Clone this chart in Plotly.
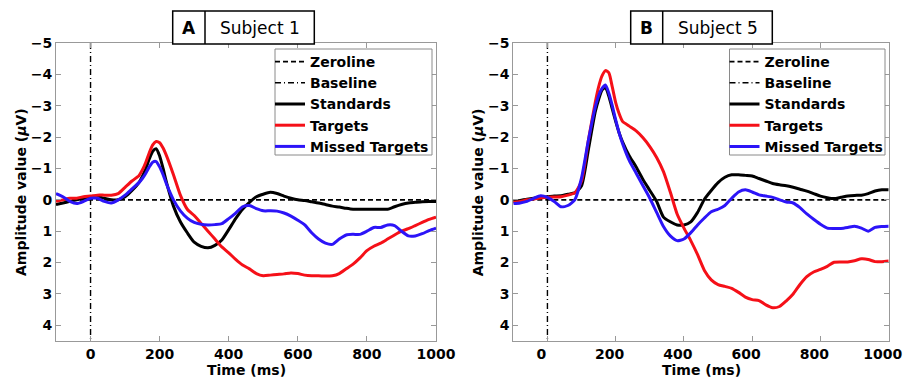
import plotly.graph_objects as go

# ---------------- data ----------------
time_ms = [-100, -80, -60, -40, -20, 0, 20, 40, 60, 80, 100, 120, 140, 150, 160, 170, 180, 190, 200, 210, 220,
           240, 260, 280, 300, 320, 340, 360, 380, 400, 420, 440, 460, 480, 500, 520, 540, 560, 580, 600,
           620, 640, 660, 680, 700, 720, 740, 760, 780, 800, 820, 840, 860, 880, 900, 920, 940, 960, 980, 1000]

s1_standards = [0.15, 0.1, 0.05, 0.0, -0.05, -0.1, -0.1, -0.05, 0.0, 0.0, -0.1, -0.3, -0.55, -0.75, -1.0, -1.3, -1.55, -1.63, -1.4, -1.0, -0.55,
                0.2, 0.7, 1.05, 1.35, 1.48, 1.53, 1.45, 1.28, 0.95, 0.6, 0.3, 0.08, -0.1, -0.18, -0.24, -0.2, -0.12, -0.05, 0.0,
                0.02, 0.06, 0.1, 0.15, 0.2, 0.23, 0.27, 0.3, 0.3, 0.3, 0.3, 0.3, 0.3, 0.22, 0.15, 0.1, 0.08, 0.06, 0.05, 0.05]
s1_targets = [0.05, 0.0, -0.05, -0.05, -0.1, -0.12, -0.15, -0.15, -0.15, -0.2, -0.4, -0.6, -0.77, -0.95, -1.2, -1.5, -1.75, -1.86, -1.82, -1.65, -1.4,
              -0.8, -0.15, 0.3, 0.5, 0.75, 1.0, 1.25, 1.5, 1.69, 1.9, 2.08, 2.2, 2.35, 2.42, 2.4, 2.38, 2.36, 2.33, 2.35,
              2.4, 2.42, 2.42, 2.43, 2.42, 2.35, 2.2, 2.05, 1.85, 1.62, 1.48, 1.38, 1.25, 1.12, 1.0, 0.92, 0.82, 0.72, 0.62, 0.55]
s1_missed = [-0.2, -0.1, 0.05, 0.12, 0.05, -0.05, -0.05, 0.05, 0.1, 0.0, -0.15, -0.35, -0.55, -0.68, -0.85, -1.05, -1.2, -1.22, -1.05, -0.8, -0.5,
             0.0, 0.35, 0.58, 0.72, 0.78, 0.8, 0.79, 0.76, 0.6, 0.42, 0.22, 0.18, 0.28, 0.35, 0.35, 0.36, 0.42, 0.52, 0.65,
             0.8, 1.05, 1.25, 1.38, 1.42, 1.25, 1.12, 1.1, 1.1, 1.0, 0.88, 0.88, 0.8, 0.82, 1.0, 1.15, 1.15, 1.08, 0.98, 0.9]

s5_standards = [0.05, 0.02, -0.02, -0.05, -0.08, -0.1, -0.12, -0.13, -0.18, -0.22, -0.45, -1.6, -2.8, -3.2, -3.5, -3.58, -3.3, -2.9, -2.5, -2.14, -1.85,
                -1.4, -1.05, -0.65, -0.3, 0.05, 0.55, 0.7, 0.8, 0.8, 0.7, 0.4, -0.02, -0.3, -0.55, -0.72, -0.8, -0.8, -0.78, -0.76,
                -0.68, -0.6, -0.52, -0.48, -0.45, -0.4, -0.34, -0.28, -0.2, -0.12, -0.07, -0.04, -0.08, -0.12, -0.14, -0.15, -0.2, -0.28, -0.32, -0.32]
s5_targets = [0.08, 0.05, 0.0, -0.03, -0.06, -0.08, -0.09, -0.1, -0.15, -0.22, -0.6, -1.9, -3.1, -3.6, -3.95, -4.12, -4.05, -3.6, -3.1, -2.75, -2.5,
              -2.35, -2.2, -1.98, -1.7, -1.35, -0.9, -0.25, 0.45, 0.9, 1.3, 1.75, 2.25, 2.55, 2.7, 2.76, 2.82, 2.95, 3.1, 3.18,
              3.21, 3.35, 3.44, 3.4, 3.22, 3.0, 2.7, 2.45, 2.3, 2.22, 2.12, 1.99, 1.98, 1.98, 1.94, 1.88, 1.9, 1.97, 1.97, 1.95]
s5_missed = [0.12, 0.1, 0.05, -0.05, -0.13, -0.08, 0.05, 0.22, 0.18, 0.0, -0.7, -1.9, -2.95, -3.32, -3.55, -3.66, -3.4, -3.0, -2.55, -2.14, -1.8,
             -1.25, -0.85, -0.45, -0.05, 0.4, 0.85, 1.15, 1.3, 1.25, 1.05, 0.8, 0.58, 0.38, 0.3, 0.18, -0.05, -0.25, -0.32, -0.25,
             -0.16, -0.12, -0.08, 0.0, 0.07, 0.1, 0.25, 0.45, 0.62, 0.78, 0.9, 0.91, 0.91, 0.88, 0.84, 0.9, 1.0, 0.88, 0.85, 0.84]

x_limits = [-100, 1000]
y_limits = [-5, 4.5]
y_ticks = [-5, -4, -3, -2, -1, 0, 1, 2, 3, 4]
x_ticks = [0, 200, 400, 600, 800, 1000]
panel_letters = ["A", "B"]
panel_titles = ["Subject 1", "Subject 5"]
series_names = ["Standards", "Targets", "Missed Targets"]
series_colors = ["#000000", "#f51018", "#2c14f8"]

W, H = 905, 378
FONT = "DejaVu Sans"

def px(x):
    return x / W

def py(y):
    return 1 - y / H

panels = [
    dict(xa="x", ya="y", legend="legend", series=[s1_standards, s1_targets, s1_missed],
         xdom=[px(56), px(436)], box=(172.7, 205, 314.3), legbox=(275, 432)),
    dict(xa="x2", ya="y2", legend="legend2", series=[s5_standards, s5_targets, s5_missed],
         xdom=[px(513.3), px(888.7)], box=(630.7, 662.7, 772.3), legbox=(729.5, 885)),
]
ydom = [py(341), py(43)]

fig = go.Figure()
shapes = []
annotations = []

for i, p in enumerate(panels):
    fig.add_trace(go.Scatter(x=x_limits, y=[0, 0], mode="lines", name="Zeroline",
                             line=dict(color="black", width=1.6, dash="5px,3px"),
                             xaxis=p["xa"], yaxis=p["ya"], legend=p["legend"]))
    fig.add_trace(go.Scatter(x=[0, 0], y=y_limits, mode="lines", name="Baseline",
                             line=dict(color="black", width=1.4, dash="6px,3px,1px,3px"),
                             xaxis=p["xa"], yaxis=p["ya"], legend=p["legend"]))
    for name, vals, col in zip(series_names, p["series"], series_colors):
        fig.add_trace(go.Scatter(x=time_ms, y=vals, mode="lines", name=name,
                                 line=dict(color=col, width=3, shape="spline", smoothing=0.6),
                                 xaxis=p["xa"], yaxis=p["ya"], legend=p["legend"]))

    # legend box
    lx0, lx1 = p["legbox"]
    shapes.append(dict(type="rect", xref="paper", yref="paper", x0=px(lx0), x1=px(lx1),
                       y0=py(155), y1=py(49), line=dict(color="#8a8a8a", width=1),
                       fillcolor="white", layer="above"))
    # title box
    bx0, bdiv, bx1 = p["box"]
    shapes.append(dict(type="rect", xref="paper", yref="paper", x0=px(bx0), x1=px(bx1),
                       y0=py(44), y1=py(11), line=dict(color="black", width=1.5),
                       fillcolor="white", layer="above"))
    shapes.append(dict(type="line", xref="paper", yref="paper", x0=px(bdiv), x1=px(bdiv),
                       y0=py(44), y1=py(11), line=dict(color="black", width=1.5), layer="above"))
    annotations.append(dict(text=panel_letters[i], xref="paper", yref="paper",
                            x=px((bx0 + bdiv) / 2), y=py(28), showarrow=False,
                            xanchor="center", yanchor="middle",
                            font=dict(family=FONT, size=17, color="black", weight="bold")))
    annotations.append(dict(text=panel_titles[i], xref="paper", yref="paper",
                            x=px((bdiv + bx1) / 2), y=py(28), showarrow=False,
                            xanchor="center", yanchor="middle",
                            font=dict(family=FONT, size=17, color="black")))
    # axis titles
    cx = (p["xdom"][0] + p["xdom"][1]) / 2
    annotations.append(dict(text="Time (ms)", xref="paper", yref="paper", x=cx, y=py(370),
                            showarrow=False, xanchor="center", yanchor="middle",
                            font=dict(family=FONT, size=14, color="black", weight="bold")))
    annotations.append(dict(text="Amplitude value (<i>μ</i>V)", xref="paper", yref="paper",
                            x=p["xdom"][0] - px(35), y=(ydom[0] + ydom[1]) / 2, textangle=-90,
                            showarrow=False, xanchor="center", yanchor="middle",
                            font=dict(family=FONT, size=14, color="black", weight="bold")))

axis_common = dict(showline=True, linecolor="#999999", linewidth=1, mirror="ticks",
                   ticks="inside", ticklen=5, tickcolor="#999999", showgrid=False, zeroline=False,
                   automargin=False, ticklabeloverflow="allow",
                   tickfont=dict(family=FONT, size=14, color="black", weight="bold"))

legend_common = dict(bgcolor="rgba(0,0,0,0)", borderwidth=0, xanchor="left", yanchor="top",
                     font=dict(family=FONT, size=14, color="black", weight="bold"),
                     itemwidth=30, tracegroupgap=0, traceorder="normal")

fig.update_layout(
    width=W, height=H, margin=dict(l=0, r=0, t=0, b=0, pad=0, autoexpand=False),
    paper_bgcolor="white", plot_bgcolor="white",
    showlegend=True,
    xaxis=dict(domain=panels[0]["xdom"], range=x_limits, tickvals=x_ticks, anchor="y", **axis_common),
    yaxis=dict(domain=ydom, range=[y_limits[1], y_limits[0]], tickvals=y_ticks, anchor="x", **axis_common),
    xaxis2=dict(domain=panels[1]["xdom"], range=x_limits, tickvals=x_ticks, anchor="y2",
                ticklabelshift=-6, **axis_common),
    yaxis2=dict(domain=ydom, range=[y_limits[1], y_limits[0]], tickvals=y_ticks, anchor="x2", **axis_common),
    legend=dict(x=px(270), y=py(46), **legend_common),
    legend2=dict(x=px(724.5), y=py(46), **legend_common),
    shapes=shapes,
    annotations=annotations,
)

fig.write_html("out.html")
